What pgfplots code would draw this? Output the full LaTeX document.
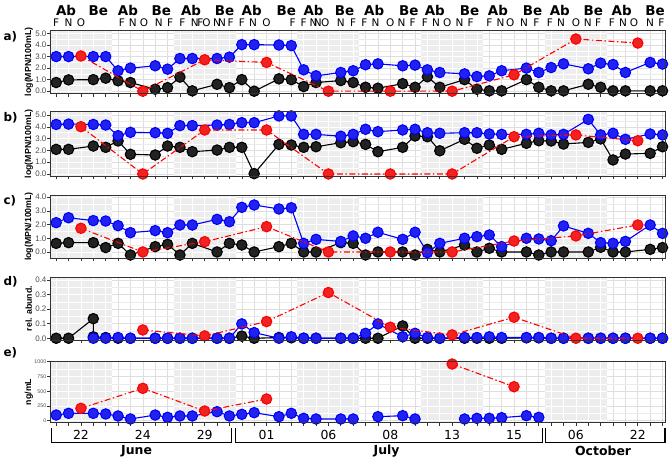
\documentclass[border=0pt]{standalone}
\usepackage{pgfplots}
\pgfplotsset{compat=1.18}
\usepackage{fontspec}
\setmainfont{DejaVu Sans}
\newfontfamily\lib{Liberation Sans}
\definecolor{bandgray}{RGB}{237,237,237}
\definecolor{gridgray}{RGB}{222,222,222}
\definecolor{framegray}{RGB}{51,51,51}
\definecolor{blumark}{RGB}{34,34,240}
\definecolor{redmark}{RGB}{240,34,34}
\definecolor{blkmark}{RGB}{34,34,34}
\pgfplotsset{
  panel/.style={
    scale only axis, width=615bp, xmin=-0.5, xmax=49.2,
    xtick={0,...,49}, xticklabels={},
    tick align=outside, xtick pos=bottom, ytick pos=left,
    major tick length=3bp, minor tick length=0bp,
    tick style={framegray, line width=0.6bp},
    xmajorgrids, ymajorgrids, yminorgrids, minor y tick num=1,
    major grid style={gridgray, line width=0.6bp},
    minor grid style={gridgray!60, line width=0.4bp},
    axis line style={framegray, line width=0.8bp},
    clip mode=individual,
    yticklabel style={font=\lib\fontsize{8}{9}\selectfont, text=black!70, inner sep=0.4bp},
    every axis y label/.style={at={(axis description cs:-0.0345,0.5)}, rotate=90, anchor=center,
      font=\lib\bfseries\fontsize{8.8}{10}\selectfont},
  },
  blk/.style={color=black, line width=1.1bp, mark=*, mark size=5.2bp, mark options={solid, draw=none, fill=blkmark}},
  blu/.style={color=blue, line width=1.1bp, mark=*, mark size=5.2bp, mark options={solid, draw=none, fill=blumark}},
  rd/.style={color=red, line width=1.1bp, dash pattern=on 6bp off 2.5bp on 1.5bp off 2.5bp, mark=*, mark size=5.2bp, mark options={solid, draw=none, fill=redmark}},
}
\newcommand{\deco}[3]{%
  \fill[bandgray] (axis cs:-0.5,#1) rectangle (axis cs:4.5,#2);
  \fill[bandgray] (axis cs:9.5,#1) rectangle (axis cs:14.5,#2);
  \fill[bandgray] (axis cs:19.5,#1) rectangle (axis cs:24.5,#2);
  \fill[bandgray] (axis cs:29.5,#1) rectangle (axis cs:34.5,#2);
  \fill[bandgray] (axis cs:39.5,#1) rectangle (axis cs:44.5,#2);
  \pgfplotsinvokeforeach{0,1,2,3,4,10,11,12,13,14,20,21,22,23,24,30,31,32,33,34,40,41,42,43,44}{%
    \draw[white, line width=0.6bp] (axis cs:##1,#1) -- (axis cs:##1,#2);}
  \pgfplotsinvokeforeach{#3}{%
    \draw[white, line width=0.5bp] (axis cs:-0.5,##1) -- (axis cs:4.5,##1);
    \draw[white, line width=0.5bp] (axis cs:9.5,##1) -- (axis cs:14.5,##1);
    \draw[white, line width=0.5bp] (axis cs:19.5,##1) -- (axis cs:24.5,##1);
    \draw[white, line width=0.5bp] (axis cs:29.5,##1) -- (axis cs:34.5,##1);
    \draw[white, line width=0.5bp] (axis cs:39.5,##1) -- (axis cs:44.5,##1);}
}
\newcommand{\panelframe}{\draw[framegray, line width=0.8bp] (rel axis cs:0,0) rectangle (rel axis cs:1,1);}
\newcommand{\hd}[2]{\node[font=\bfseries\fontsize{13.5}{14}\selectfont, inner sep=0pt] at ([yshift=19.5bp]axis cs:#1,5.3) {#2};}
\newcommand{\lt}[2]{\node[font=\fontsize{10.5}{11}\selectfont, inner sep=0pt] at ([yshift=7.5bp]axis cs:#1,5.3) {#2};}
\newcommand{\bracket}[4]{%
  \draw[black, line width=1.1bp] ([yshift=-5bp]axis cs:#1,-34) -- ([yshift=-20bp]axis cs:#1,-34) -- ([yshift=-20bp]axis cs:#2,-34) -- ([yshift=-5bp]axis cs:#2,-34);
  \node[font=\bfseries\fontsize{12.5}{13}\selectfont] at ([yshift=-28.5bp]axis cs:#3,-34) {#4};}
\begin{document}
\begin{tikzpicture}
\useasboundingbox (0,0) rectangle (671bp,-458bp);
% panel labels
\node[anchor=west, font=\bfseries\fontsize{12}{13}\selectfont] at (0bp,-37bp) {a)};
\node[anchor=west, font=\bfseries\fontsize{12}{13}\selectfont] at (0bp,-118bp) {b)};
\node[anchor=west, font=\bfseries\fontsize{12}{13}\selectfont] at (0bp,-201bp) {c)};
\node[anchor=west, font=\bfseries\fontsize{12}{13}\selectfont] at (0bp,-282bp) {d)};
\node[anchor=west, font=\bfseries\fontsize{12}{13}\selectfont] at (0bp,-353bp) {e)};

% ---------------- panel a
\begin{axis}[panel, at={(50bp,-30bp)}, anchor=north west, height=63.5bp,
  ymin=-0.2, ymax=5.3, ytick={0,1,2,3,4,5}, yticklabels={0.0,1.0,2.0,3.0,4.0,5.0},
  ylabel={log(MPN/100mL)}]
\deco{-0.2}{5.3}{0,0.5,1,1.5,2,2.5,3,3.5,4,4.5,5}
\addplot[blk] coordinates {(0,0.75) (1,0.98) (3,1.0) (4,1.13) (5,0.9) (6,0.75) (8,0.17) (9,0.31) (10,1.22) (11,0.03) (13,0.6) (14,0.31) (15,1.0) (16,0.0) (18,1.07) (19,1.0) (20,0.4) (21,0.75) (23,0.92) (24,0.75) (25,0.34) (26,0.26) (28,0.65) (29,0.34) (30,1.25) (31,0.34) (33,1.0) (34,0.17) (35,0.03) (36,0.03) (38,1.0) (39,0.34) (40,0.03) (41,0.03) (43,0.6) (44,0.34) (45,0.03) (46,0.03) (48,0.03) (49,0.03)};
\addplot[blu] coordinates {(0,3.0) (1,3.0) (3,3.0) (4,3.0) (5,1.77) (6,2.0) (8,2.2) (9,1.91) (10,2.83) (11,2.83) (13,2.83) (14,2.95) (15,4.03) (16,4.03) (18,4.0) (19,3.95) (20,1.85) (21,1.33) (23,1.62) (24,1.77) (25,2.29) (26,2.37) (28,2.2) (29,2.26) (30,1.85) (31,1.62) (33,1.5) (34,1.27) (35,1.33) (36,1.77) (38,2.0) (39,1.62) (40,2.05) (41,2.37) (43,1.94) (44,2.43) (45,2.31) (46,1.62) (48,2.49) (49,2.35)};
\addplot[rd] coordinates {(2,3.05) (7,0) (12,2.72) (17,2.49) (22,0) (27,0) (32,0) (37,1.42) (42,4.52) (47,4.17)};
\panelframe
\hd{0.8}{Ab}\hd{3.4}{Be}\hd{5.8}{Ab}\hd{8.5}{Be}\hd{10.9}{Ab}\hd{13.6}{Be}\hd{15.8}{Ab}\hd{18.6}{Be}\hd{20.8}{Ab}\hd{23.3}{Be}
\hd{25.7}{Ab}\hd{28.5}{Be}\hd{30.6}{Ab}\hd{33.4}{Be}\hd{35.7}{Ab}\hd{38.5}{Be}\hd{40.7}{Ab}\hd{43.4}{Be}\hd{45.7}{Ab}\hd{48.4}{Be}
\lt{0}{F}\lt{1}{N}\lt{2}{O}
\lt{5.3}{F}\lt{6.2}{N}\lt{7.1}{O}\lt{8.3}{N}\lt{9.2}{F}
\lt{10.2}{F}\lt{11.2}{N}\lt{11.65}{F}\lt{12.15}{O}\lt{13.0}{N}\lt{13.4}{N}\lt{14.1}{F}
\lt{15.0}{F}\lt{15.9}{N}\lt{17.0}{O}\lt{19.1}{F}
\lt{20.0}{F}\lt{20.8}{N}\lt{21.15}{N}\lt{21.75}{O}\lt{23.0}{N}\lt{24.0}{F}
\lt{24.9}{F}\lt{25.8}{N}\lt{27.0}{O}\lt{27.9}{N}\lt{28.8}{F}
\lt{29.8}{F}\lt{30.7}{N}\lt{31.6}{O}\lt{32.6}{N}\lt{33.5}{F}
\lt{35.0}{F}\lt{35.9}{N}\lt{36.7}{O}\lt{37.8}{N}\lt{38.8}{F}
\lt{39.9}{F}\lt{40.8}{N}\lt{42.0}{O}\lt{42.95}{N}\lt{43.8}{F}
\lt{44.9}{F}\lt{45.8}{N}\lt{46.7}{O}\lt{48.0}{N}\lt{48.9}{F}
\end{axis}

% ---------------- panel b
\begin{axis}[panel, at={(50bp,-111.7bp)}, anchor=north west, height=64.3bp,
  ymin=-0.17, ymax=5.28, ytick={0,1,2,3,4,5}, yticklabels={0.0,1.0,2.0,3.0,4.0,5.0},
  ylabel={log(MPN/100mL)}]
\deco{-0.17}{5.28}{0,0.5,1,1.5,2,2.5,3,3.5,4,4.5,5}
\addplot[blk] coordinates {(0,2.09) (1,2.09) (3,2.37) (4,2.26) (5,2.8) (6,1.67) (8,1.61) (9,2.37) (10,2.26) (11,1.89) (13,2.03) (14,2.26) (15,2.26) (16,0.03) (18,2.51) (19,2.46) (20,2.26) (21,2.31) (23,2.65) (24,2.74) (25,2.51) (26,1.89) (28,2.26) (29,3.22) (30,3.16) (31,1.97) (33,2.94) (34,2.18) (35,2.46) (36,2.09) (38,2.6) (39,2.82) (40,2.8) (41,2.54) (43,2.68) (44,2.97) (45,1.19) (46,1.69) (48,1.75) (49,2.31)};
\addplot[blu] coordinates {(0,4.2) (1,4.23) (3,4.2) (4,4.15) (5,3.25) (6,3.53) (8,3.5) (9,3.45) (10,4.1) (11,4.1) (13,4.15) (14,4.2) (15,4.35) (16,4.35) (18,4.92) (19,4.92) (20,3.36) (21,3.36) (23,3.2) (24,3.36) (25,3.79) (26,3.59) (28,3.73) (29,3.79) (30,3.5) (31,3.45) (33,3.5) (34,3.5) (35,3.39) (36,3.36) (38,3.36) (39,3.45) (40,3.31) (41,3.36) (43,4.63) (44,3.31) (45,3.45) (46,2.94) (48,3.39) (49,3.31)};
\addplot[rd] coordinates {(2,4.01) (7,0) (12,3.73) (17,3.73) (22,0) (27,0) (32,0) (37,3.16) (42,3.31) (47,2.82)};
\panelframe
\end{axis}

% ---------------- panel c
\begin{axis}[panel, at={(50bp,-195bp)}, anchor=north west, height=63bp,
  ymin=-0.44, ymax=4.16, ytick={0,1,2,3,4}, yticklabels={0.0,1.0,2.0,3.0,4.0},
  ylabel={log(MPN/100mL)}]
\deco{-0.44}{4.16}{0,0.5,1,1.5,2,2.5,3,3.5,4}
\addplot[blk] coordinates {(0,0.63) (1,0.68) (3,0.68) (4,0.32) (5,0.63) (6,-0.22) (8,0.39) (9,0.56) (10,-0.22) (11,0.63) (13,0.0) (14,0.63) (15,0.51) (16,0.0) (18,0.39) (19,0.63) (20,0.0) (21,0.0) (23,0.68) (24,0.63) (25,-0.22) (26,0.0) (28,0.0) (29,-0.22) (30,0.19) (31,0.0) (33,0.51) (34,0.0) (35,0.27) (36,0.0) (38,0.0) (39,-0.22) (40,0.0) (41,0.0) (43,0.0) (44,0.34) (45,0) (46,0) (48,0.19) (49,0.32)};
\addplot[blu] coordinates {(0,2.14) (1,2.5) (3,2.29) (4,2.26) (5,1.92) (6,1.41) (8,1.56) (9,1.41) (10,1.97) (11,1.97) (13,2.38) (14,2.21) (15,3.26) (16,3.43) (18,3.14) (19,3.23) (20,0.63) (21,0.92) (23,0.77) (24,1.17) (25,1.0) (26,1.44) (28,0.92) (29,1.44) (30,-0.05) (31,0.63) (33,1.0) (34,1.12) (35,1.24) (36,0.39) (38,1.0) (39,0.95) (40,0.82) (41,1.9) (43,1.36) (44,0.68) (45,0.63) (46,0.77) (48,1.97) (49,1.36)};
\addplot[rd] coordinates {(2,1.73) (7,0) (12,0.75) (17,1.85) (22,0) (27,0) (32,0) (37,0.8) (42,1.17) (47,1.97)};
\panelframe
\end{axis}

% ---------------- panel d
\begin{axis}[panel, at={(50bp,-277.3bp)}, anchor=north west, height=62.7bp,
  ymin=-0.012, ymax=0.42, ytick={0,0.1,0.2,0.3,0.4}, yticklabels={0.0,0.1,0.2,0.3,0.4},
  ylabel={rel. abund.}]
\deco{-0.012}{0.42}{0,0.05,0.1,0.15,0.2,0.25,0.3,0.35,0.4}
\addplot[blk] coordinates {(0,0) (1,0) (3,0.135) (3,0.01) (4,0.005) (5,0) (6,0) (8,0) (9,0) (10,0) (11,0) (13,0) (14,0) (15,0.015) (16,0) (18,0.005) (19,0.003) (20,0) (21,0) (23,0) (24,0) (25,0) (26,0) (28,0.085) (29,0) (30,0) (31,0) (33,0) (34,0) (35,0) (36,0) (38,0.003) (39,0.003) (40,0) (41,0) (43,0) (44,0) (45,0) (46,0) (48,0) (49,0)};
\addplot[blu] coordinates {(3,0) (4,0) (5,0.005) (6,0) (8,0) (9,0) (10,0) (11,0) (13,0) (14,0) (15,0.099) (16,0.039) (18,0) (19,0.01) (20,0) (21,0) (23,0) (24,0) (25,0.034) (26,0.099) (28,0.01) (29,0.034) (30,0.005) (31,0) (33,0.005) (34,0.005) (35,0.01) (36,0.005) (38,0.005) (39,0.005) (40,0) (41,0) (43,0) (44,0) (45,0) (46,0) (48,0) (49,0)};
\addplot[rd] coordinates {(7,0.057) (12,0.016) (17,0.115) (22,0.315) (27,0.076) (32,0.023) (37,0.145) (42,0.0) (47,0.0)};
\panelframe
\end{axis}

% ---------------- panel e
\begin{axis}[panel, at={(50bp,-361bp)}, anchor=north west, height=61.7bp,
  ymin=-34, ymax=1012, ytick={0,250,500,750,1000}, yticklabels={0,250,500,750,1000},
  yticklabel style={font=\lib\fontsize{5.3}{6}\selectfont, text=black!70, inner sep=0.6bp},
  ylabel={ng/mL}, unbounded coords=jump,
  xticklabels={,,22,,,,,24,,,,,29,,,,,01,,,,,06,,,,,08,,,,,13,,,,,15,,,,,06,,,,,22,,},
  xticklabel style={font=\fontsize{12.5}{13}\selectfont, text=black, yshift=-1bp}]
\deco{-34}{1012}{0,125,250,375,500,625,750,875,1000}
\addplot[blu] coordinates {(0,96) (1,125) (3,125) (4,114) (5,80) (6,29) (8,96) (9,57) (10,80) (11,80) (13,153) (14,80) (15,108) (16,136) (18,68) (19,125) (20,40) (21,29) (23,29) (24,29) (25,nan) (26,68) (28,85) (29,29) (31,nan) (33,29) (34,40) (35,40) (36,51) (38,85) (39,57)};
\addplot[rd] coordinates {(2,210) (7,549) (12,164) (17,368) (27,nan) (32,961) (37,576)};
\panelframe
\bracket{-0.35}{14.15}{6.5}{June}
\bracket{14.5}{39.3}{26.7}{July}
\bracket{39.55}{49.2}{44.2}{October}
\end{axis}
\end{tikzpicture}
\end{document}
